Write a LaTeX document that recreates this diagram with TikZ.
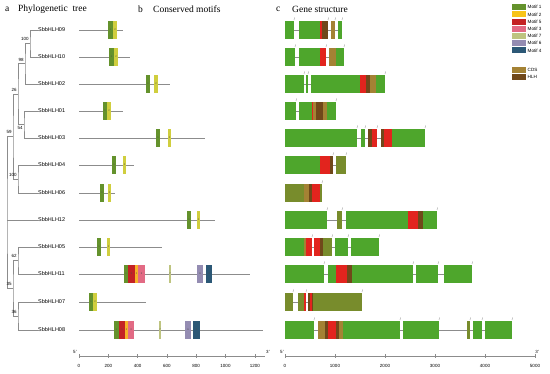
\documentclass[tikz,border=0pt]{standalone}
\usepackage{fontspec}
\setmainfont{Liberation Serif}
\setsansfont{Liberation Sans}
\usetikzlibrary{positioning}

\definecolor{mOne}{RGB}{100,146,44}
\definecolor{mTwo}{RGB}{208,206,62}
\definecolor{mTwoB}{RGB}{247,178,40}
\definecolor{mFive}{RGB}{196,34,36}
\definecolor{mThree}{RGB}{226,106,132}
\definecolor{mSeven}{RGB}{190,196,128}
\definecolor{mSix}{RGB}{148,140,178}
\definecolor{mFour}{RGB}{44,88,118}
\definecolor{lTwo}{RGB}{248,196,24}
\definecolor{exG}{RGB}{78,166,44}
\definecolor{exO}{RGB}{120,140,44}
\definecolor{cds}{RGB}{164,130,52}
\definecolor{hlh}{RGB}{112,72,26}
\definecolor{rd}{RGB}{226,36,30}
\definecolor{ln}{RGB}{140,140,140}

\newcommand{\motif}[5]{\path[fill=#4] (#2,#1-9) rectangle node[mnum]{#5} (#3,#1+9);}
\newcommand{\exon}[4]{\fill[#4] (#2,#1-9) rectangle (#3,#1+9); \draw[tk] (#3,#1-10) -- ++(0.5,-2.5);}
\newcommand{\feat}[4]{\fill[#4] (#2,#1-9) rectangle (#3,#1+9);}

\begin{document}
\begin{tikzpicture}[x=1pt,y=-1pt]
\tikzstyle{ttl}=[anchor=west,inner sep=0pt,font=\rmfamily\fontsize{9.5}{11}\selectfont]
\tikzstyle{leaf}=[anchor=west,inner sep=0.5pt,font=\sffamily\fontsize{5.5}{6}\selectfont]
\tikzstyle{bs}=[inner sep=0.3pt,font=\sffamily\fontsize{4.5}{5}\selectfont]
\tikzstyle{tl}=[inner sep=0pt,font=\sffamily\fontsize{4.5}{5}\selectfont]
\tikzstyle{lg}=[anchor=west,inner sep=0pt,font=\sffamily\fontsize{4.6}{5}\selectfont]
\tikzstyle{mnum}=[inner sep=0pt,text=black!70,font=\sffamily\fontsize{2.5}{3}\selectfont]
\tikzstyle{br}=[draw=ln,line width=0.5pt]
\tikzstyle{gl}=[draw=ln,line width=0.5pt]
\tikzstyle{tk}=[draw=ln,line width=0.3pt]
\useasboundingbox (0,0) rectangle (550,374);
% titles
\node[ttl] (ta) at (5,9) {a}; \node[ttl] (tta) at (18,9) {Phylogenetic~ tree};
\node[ttl] (tb) at (138,9) {b}; \node[ttl] (ttb) at (153,9) {Conserved motifs};
\node[ttl] (tc) at (276,9) {c}; \node[ttl] (ttc) at (292,9) {Gene structure};
% leaves and protein lines
\foreach \n/\y/\e in {09/30/123,10/57/130,02/84/170,01/111/123,03/138/205,04/165/134,06/193/115,12/220/215,05/247/162,11/274/250,07/302/146,08/330/263}{
  \node[leaf] (l\n) at (37.5,\y) {SbbHLH\n};
  \draw[gl] (79,\y) -- (\e,\y);}
% tree
\coordinate (c100a) at (30,43.5); \coordinate (c98) at (25,63.75); \coordinate (c54) at (24,124.5);
\coordinate (c26) at (18,94); \coordinate (c100b) at (18,179); \coordinate (c59) at (13,136.5);
\coordinate (c62) at (18,260.5); \coordinate (c36) at (18,316); \coordinate (c35) at (13,288);
\coordinate (root) at (7,220);
\draw[br] (l09.west) -| (c100a) |- (l10.west);
\draw[br] (c100a) -| (c98) |- (l02.west);
\draw[br] (l01.west) -| (c54) |- (l03.west);
\draw[br] (c98) -| (c26) |- (c54);
\draw[br] (l04.west) -| (c100b) |- (l06.west);
\draw[br] (c26) -| (c59) |- (c100b);
\draw[br] (l05.west) -| (c62) |- (l11.west);
\draw[br] (l07.west) -| (c36) |- (l08.west);
\draw[br] (c62) -| (c35) |- (c36);
\draw[br] (c59) -| (root) |- (c35);
\draw[br] (root) -- (l12.west);
\node[bs,above left=2pt and 0.8pt of c100a] {100};
\node[bs,above left=2pt and 0.8pt of c98] {98};
\node[bs,above left=2pt and 0.8pt of c26] {26};
\node[bs,below left=1.5pt and 0.8pt of c54] {54};
\node[bs,above left=2pt and 0.8pt of c59] {59};
\node[bs,above left=2pt and 0.8pt of c100b] {100};
\node[bs,above left=2pt and 0.8pt of c62] {62};
\node[bs,above left=2pt and 0.8pt of c35] {35};
\node[bs,above left=2pt and 0.8pt of c36] {36};
% conserved motifs
\motif{30}{108}{113}{mOne}{1}\motif{30}{113}{117}{mTwo}{2}
\motif{57}{109}{114}{mOne}{1}\motif{57}{114}{118}{mTwo}{2}
\motif{84}{146}{150}{mOne}{1}\motif{84}{154}{158}{mTwo}{2}
\motif{111}{103}{107}{mOne}{1}\motif{111}{107}{111}{mTwo}{2}
\motif{138}{156}{160}{mOne}{1}\motif{138}{168}{171}{mTwo}{2}
\motif{165}{112}{116}{mOne}{1}\motif{165}{123}{126}{mTwo}{2}
\motif{193}{100}{104}{mOne}{1}\motif{193}{108}{111}{mTwo}{2}
\motif{220}{187}{191}{mOne}{1}\motif{220}{197}{200}{mTwo}{2}
\motif{247}{97}{101}{mOne}{1}\motif{247}{107}{110}{mTwo}{2}
\motif{274}{124}{128}{mOne}{1}\motif{274}{128}{135}{mFive}{5}\motif{274}{135}{138}{mTwoB}{2}\motif{274}{138}{145}{mThree}{3}
\motif{274}{169}{171}{mSeven}{7}\motif{274}{197}{203}{mSix}{6}\motif{274}{206}{212}{mFour}{4}
\motif{302}{89}{93}{mOne}{1}\motif{302}{93}{97}{mTwo}{2}
\motif{330}{114}{119}{mOne}{1}\motif{330}{119}{125}{mFive}{5}\motif{330}{125}{128}{mTwoB}{2}\motif{330}{128}{134}{mThree}{3}
\motif{330}{159}{161}{mSeven}{7}\motif{330}{185}{191}{mSix}{6}\motif{330}{193}{200}{mFour}{4}
% motif axis
\draw[gl] (79,356) -- (265,356);
\foreach \v in {0,200,...,1200}{\draw[tk] ({79+\v*0.1465},354.5) -- ++(0,3.5); \node[tl] at ({79+\v*0.1465},366) {\v};}
\node[tl] (p5) at (75,352) {5'}; \node[tl] (p3) at (268,352) {3'};
% gene structure
\draw[gl] (285,30) -- (342,30); \exon{30}{285}{294}{exG}\exon{30}{299}{328}{exG}\exon{30}{331}{335}{cds}\exon{30}{338}{342}{exG}\feat{30}{320}{322}{rd}\feat{30}{322}{328}{hlh}
\draw[gl] (285,57) -- (344,57); \exon{57}{285}{295}{exG}\exon{57}{299}{326}{exG}\exon{57}{329}{344}{exG}\feat{57}{320}{326}{rd}\feat{57}{329}{336}{cds}
\draw[gl] (285,84) -- (385,84); \exon{84}{285}{304}{exG}\exon{84}{306}{308}{exG}\exon{84}{311}{385}{exG}\feat{84}{360}{366}{rd}\feat{84}{366}{370}{hlh}\feat{84}{370}{376}{cds}
\draw[gl] (285,111) -- (336,111); \exon{111}{285}{296}{exG}\exon{111}{299}{336}{exG}\feat{111}{312}{313}{rd}\feat{111}{313}{316}{cds}\feat{111}{316}{323}{hlh}\feat{111}{323}{327}{cds}
\draw[gl] (285,138) -- (425,138); \exon{138}{285}{357}{exG}\exon{138}{361}{365}{exG}\exon{138}{368}{377}{hlh}\exon{138}{381}{425}{exG}\feat{138}{372}{377}{rd}\feat{138}{381}{384}{hlh}\feat{138}{384}{392}{rd}
\draw[gl] (285,165) -- (346,165); \exon{165}{285}{333}{exG}\exon{165}{336}{346}{exO}\feat{165}{320}{330}{rd}\feat{165}{330}{333}{hlh}
\exon{193}{285}{322}{exO}\feat{193}{304}{309}{cds}\feat{193}{309}{312}{hlh}\feat{193}{312}{320}{rd}
\draw[gl] (285,220) -- (437,220); \exon{220}{285}{327}{exG}\exon{220}{337}{342}{exO}\exon{220}{346}{437}{exG}\feat{220}{408}{418}{rd}\feat{220}{418}{423}{hlh}
\draw[gl] (285,247) -- (379,247); \exon{247}{285}{312}{exG}\exon{247}{314}{332}{exO}\exon{247}{335}{348}{exG}\exon{247}{351}{379}{exG}\feat{247}{304}{306}{cds}\feat{247}{306}{312}{rd}\feat{247}{314}{320}{rd}\feat{247}{320}{323}{hlh}
\draw[gl] (285,274) -- (472,274); \exon{274}{285}{324}{exG}\exon{274}{328}{413}{exG}\exon{274}{416}{438}{exG}\exon{274}{444}{472}{exG}\feat{274}{336}{347}{rd}\feat{274}{347}{352}{hlh}
\draw[gl] (285,302) -- (362,302); \exon{302}{285}{293}{exO}\exon{302}{298}{306}{exO}\exon{302}{308}{362}{exO}\feat{302}{304}{306}{rd}\feat{302}{308}{313}{hlh}\feat{302}{310}{312}{rd}
\draw[gl] (285,330) -- (512,330); \exon{330}{285}{314}{exG}\exon{330}{318}{400}{exG}\exon{330}{403}{439}{exG}\exon{330}{467}{470}{exO}\exon{330}{473}{482}{exG}\exon{330}{485}{512}{exG}
\feat{330}{318}{325}{cds}\feat{330}{325}{328}{hlh}\feat{330}{328}{336}{rd}\feat{330}{336}{339}{hlh}\feat{330}{339}{343}{cds}
% gene axis
\draw[gl] (285,356) -- (535,356);
\foreach \v [count=\i from 0] in {0,1000,...,5000}{\draw[tk] (285+50*\i,354.5) -- ++(0,3.5); \node[tl] at (285+50*\i,366) {\v};}
\node[tl] (g5) at (282,352) {5'}; \node[tl] (g3) at (537,352) {3'};
% legend
\foreach \c/\t [count=\i from 0] in {mOne/Motif 1,lTwo/Motif 2,mFive/Motif 5,mThree/Motif 3,mSeven/Motif 7,mSix/Motif 6,mFour/Motif 4}{
  \fill[\c] (512,{4.3+7.2*\i}) rectangle ++(14,6);
  \node[lg] (k\i) at (527.5,{7.3+7.2*\i}) {\t};}
\fill[cds] (512,67) rectangle ++(14,6); \node[lg] (kc) at (527.5,70) {CDS};
\fill[hlh] (512,74.3) rectangle ++(14,6); \node[lg] (kh) at (527.5,77.3) {HLH};
\end{tikzpicture}
\end{document}
